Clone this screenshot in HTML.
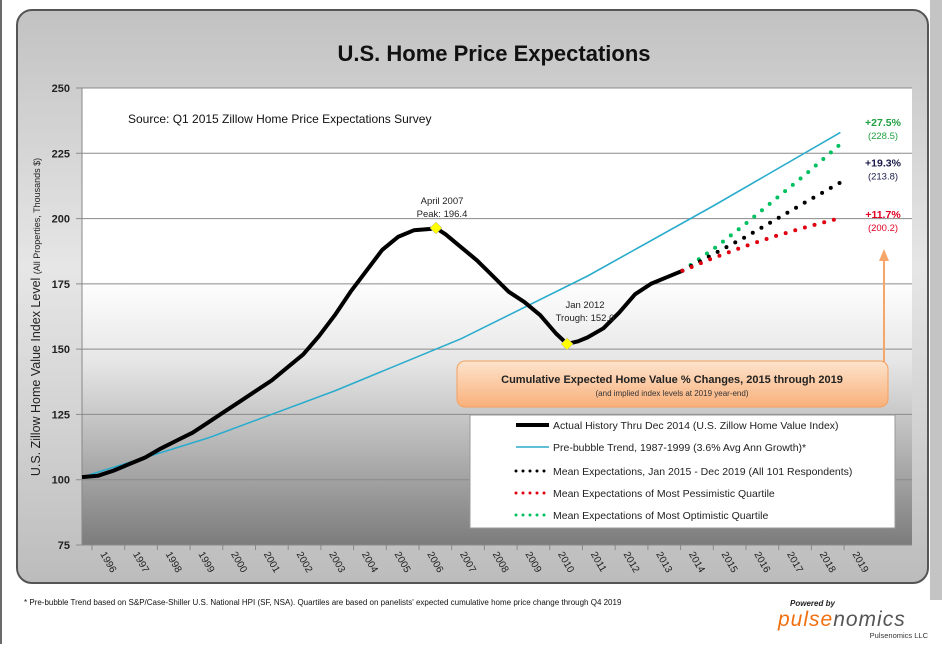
<!DOCTYPE html>
<html><head><meta charset="utf-8"><style>
body{margin:0;width:942px;height:644px;overflow:hidden;background:#fff;font-family:"Liberation Sans",sans-serif;}
</style></head><body>
<svg width="942" height="644" viewBox="0 0 942 644" xmlns="http://www.w3.org/2000/svg">
<defs>
<linearGradient id="outer" x1="0" y1="0" x2="0" y2="1">
<stop offset="0" stop-color="#c2c2c2"/><stop offset="0.45" stop-color="#e6e6e6"/><stop offset="0.75" stop-color="#d0d0d0"/><stop offset="1" stop-color="#bcbcbc"/></linearGradient>
<linearGradient id="plot" x1="0" y1="0" x2="0" y2="1">
<stop offset="0" stop-color="#ffffff"/><stop offset="0.42" stop-color="#ffffff"/><stop offset="0.6" stop-color="#e6e6e6"/><stop offset="1" stop-color="#7c7c7c"/></linearGradient>
<linearGradient id="callout" x1="0" y1="0" x2="0" y2="1">
<stop offset="0" stop-color="#fde3cc"/><stop offset="1" stop-color="#f9b07a"/></linearGradient>
</defs>
<rect x="0" y="0" width="2" height="644" fill="#6a6a6a"/>
<rect x="930" y="0" width="12" height="600" fill="#c4c4c4"/>
<rect x="17" y="10" width="911" height="573" rx="15" fill="url(#outer)" stroke="#555" stroke-width="2"/>
<text x="494" y="61" text-anchor="middle" font-size="22" font-weight="bold" fill="#111">U.S. Home Price Expectations</text>
<rect x="82" y="88" width="830" height="457" fill="url(#plot)"/>
<g id="grid"></g>
<g id="yticks"></g>
<g id="xticks"></g>
<text transform="translate(40,317) rotate(-90)" text-anchor="middle" font-size="12.5" fill="#222">U.S. Zillow Home Value Index Level <tspan font-size="9">(All Properties, Thousands $)</tspan></text>
<text x="128" y="123" font-size="12" fill="#111">Source: Q1 2015 Zillow Home Price Expectations Survey</text>
<g id="series"></g>
<text x="442" y="204" text-anchor="middle" font-size="9.5" fill="#222">April 2007</text>
<text x="442" y="217" text-anchor="middle" font-size="9.5" fill="#222">Peak: 196.4</text>
<text x="585" y="308" text-anchor="middle" font-size="9.5" fill="#222">Jan 2012</text>
<text x="585" y="321" text-anchor="middle" font-size="9.5" fill="#222">Trough: 152.0</text>
<g id="endlabels"></g>
<line x1="884" y1="362" x2="884" y2="258" stroke="#f7a66a" stroke-width="2"/>
<polygon points="884,249 879,261 889,261" fill="#f7a66a"/>
<rect x="457" y="361" width="431" height="46" rx="8" fill="url(#callout)" stroke="#f4a060"/>
<text x="672" y="383" text-anchor="middle" font-size="11" font-weight="bold" fill="#222">Cumulative Expected Home Value % Changes, 2015 through 2019</text>
<text x="672" y="396" text-anchor="middle" font-size="8" fill="#333">(and implied index levels at 2019 year-end)</text>
<rect x="470" y="415" width="425" height="113" fill="#fff" stroke="#999"/>
<g><line x1="516" y1="425" x2="549" y2="425" stroke="#000" stroke-width="4"/><text x="553" y="429" font-size="10.5" fill="#222">Actual History Thru Dec 2014 (U.S. Zillow Home Value Index)</text></g>
<g><line x1="516" y1="447" x2="549" y2="447" stroke="#2aaccc" stroke-width="1.5"/><text x="553" y="451" font-size="10.5" fill="#222">Pre-bubble Trend, 1987-1999 (3.6% Avg Ann Growth)*</text></g>
<g><line x1="516" y1="471" x2="549" y2="471" stroke="#000" stroke-width="3" stroke-linecap="round" stroke-dasharray="0 7"/><text x="553" y="475" font-size="10.5" fill="#222">Mean Expectations, Jan 2015 - Dec 2019 (All 101 Respondents)</text></g>
<g><line x1="516" y1="493" x2="549" y2="493" stroke="#e00010" stroke-width="3" stroke-linecap="round" stroke-dasharray="0 7"/><text x="553" y="497" font-size="10.5" fill="#222">Mean Expectations of Most Pessimistic Quartile</text></g>
<g><line x1="516" y1="515" x2="549" y2="515" stroke="#00c060" stroke-width="3" stroke-linecap="round" stroke-dasharray="0 7"/><text x="553" y="519" font-size="10.5" fill="#222">Mean Expectations of Most Optimistic Quartile</text></g>
<text x="24" y="605" font-size="8" fill="#111">* Pre-bubble Trend based on S&amp;P/Case-Shiller U.S. National HPI (SF, NSA).  Quartiles are based on panelists' expected cumulative home price change through Q4 2019</text>
<text x="790" y="606" font-size="8" font-style="italic" font-weight="bold" fill="#222">Powered by</text>
<text x="778" y="626" font-size="21" font-style="italic" fill="#f07010" letter-spacing="1">pulse<tspan fill="#555">nomics</tspan></text>
<text x="928" y="638" text-anchor="end" font-size="7.5" fill="#333">Pulsenomics LLC</text>
</svg>
<script>
const yTicks=[75,100,125,150,175,200,225,250];
const yearLabels=["1996","1997","1998","1999","2000","2001","2002","2003","2004","2005","2006","2007","2008","2009","2010","2011","2012","2013","2014","2015","2016","2017","2018","2019"];
const histT=[1996,1996.5,1997,1997.5,1998,1998.5,1999,1999.5,2000,2000.5,2001,2001.5,2002,2002.5,2003,2003.5,2004,2004.5,2005,2005.5,2006,2006.5,2007,2007.2,2007.5,2008,2008.5,2009,2009.5,2010,2010.5,2011,2011.35,2011.7,2012,2012.5,2013,2013.5,2014,2014.5,2015];
const histV=[101,101.5,103.5,106,108.5,112,115,118,122,126,130,134,138,143,148,155,163,172,180,188,193,195.5,196,196.4,194,189,184,178,172,168,163,156,152,153,154.5,158,164,171,175,177.5,180];
const trendT=[1996,2000,2004,2008,2012,2016,2020];
const trendV=[101,116,134,154,178,205,233];
const projT=[2015,2016,2017,2018,2019,2020];
const meanV=[180,186.5,193,200,207,213.8];
const pessV=[180,185,189.5,193.5,197,200.2];
const optV=[180,188.5,198,208,218,228.5];
const endPct=["+27.5%","+19.3%","+11.7%"];
const endVal=["(228.5)","(213.8)","(200.2)"];
const endNums=[228.5,213.8,200.2];
const endColors=["#20a040","#1a1a4a","#e00020"];

const NS="http://www.w3.org/2000/svg";
const X=t=>82+(t-1996)*31.6;
const Y=v=>545-(v-75)*(457/175);
function mk(tag,attrs,parent){const e=document.createElementNS(NS,tag);for(const k in attrs)e.setAttribute(k,attrs[k]);parent.appendChild(e);return e;}
const grid=document.getElementById('grid'),yt=document.getElementById('yticks'),xt=document.getElementById('xticks'),ser=document.getElementById('series'),el=document.getElementById('endlabels');
yTicks.forEach(v=>{
  const g=mk('line',{x1:76,x2:912,y1:Y(v),y2:Y(v),stroke:'#8a8a8a','stroke-width':1},grid);
  
  
  const t=mk('text',{x:70,y:Y(v)+4,'text-anchor':'end','font-size':11,'font-weight':'bold',fill:'#222'},yt);
  t.textContent=v;
  
  
});
mk('line',{x1:82,x2:82,y1:88,y2:545,stroke:'#888'},grid);
yearLabels.forEach((s,i)=>{
  const cx=108+i*32.7;
  const tk=mk('line',{x1:cx-16,x2:cx-16,y1:545,y2:550,stroke:'#888'},xt);
  
  
  const t=mk('text',{transform:`translate(${cx-8},554) rotate(60)`,'font-size':10,fill:'#222'},xt);
  t.textContent=s;
  
  
});
function path(ts,vs){return ts.map((t,i)=>(i?'L':'M')+X(t).toFixed(1)+','+Y(vs[i]).toFixed(1)).join(' ');}
const tr=mk('path',{d:path(trendT,trendV),fill:'none',stroke:'#2aaccc','stroke-width':1.6},ser);


const h=mk('path',{d:path(histT,histV),fill:'none',stroke:'#000','stroke-width':4,'stroke-linejoin':'round'},ser);


[[optV,'#00c060','optimistic-line'],[meanV,'#000','mean-line'],[pessV,'#e00010','pessimistic-line']].forEach(([vs,c,n])=>{
  const p=mk('path',{d:path(projT,vs),fill:'none',stroke:c,'stroke-width':4,'stroke-linecap':'round','stroke-dasharray':'0 10'},ser);
  
  
});
function diamond(t,v,n){const x=X(t),y=Y(v);const d=mk('polygon',{points:`${x},${y-6} ${x+6},${y} ${x},${y+6} ${x-6},${y}`,fill:'#ffff00',stroke:'#aaa','stroke-width':0.5},ser);}
diamond(2007.2,196.4,'peak-marker');
diamond(2011.35,152,'trough-marker');
endPct.forEach((s,i)=>{
  const y=Y(endNums[i]);
  const a=mk('text',{x:883,y:y-16+(i===0?-2:0)+ (i===2?16:0),'text-anchor':'middle','font-size':10.5,'font-weight':'bold',fill:endColors[i]},el);
  a.textContent=s;
  
  
  const b=mk('text',{x:883,y:y-3+(i===0?-2:0)+(i===2?16:0),'text-anchor':'middle','font-size':9.5,fill:endColors[i]},el);
  b.textContent=endVal[i];
  
  
});
</script>
</body></html>
